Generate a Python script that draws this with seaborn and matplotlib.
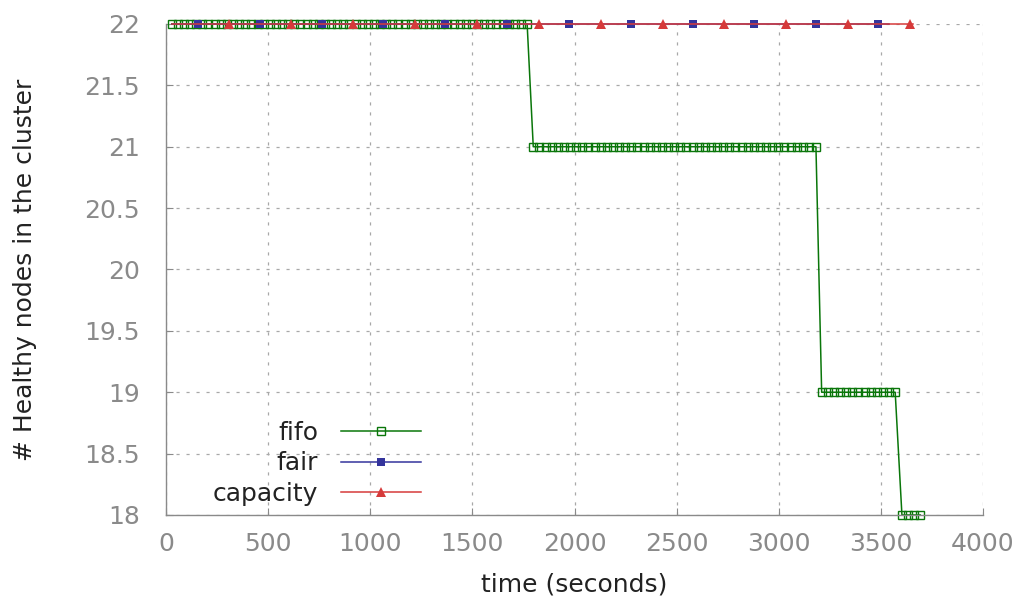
import matplotlib

matplotlib.use("Agg")
import matplotlib.pyplot as plt
import pandas as pd
import seaborn as sns

plt.rcParams.update(
    {
        "font.family": ["DejaVu Sans"],
        "font.size": 18,
        "axes.linewidth": 1.0,
    }
)

# fifo: one sample every ~30 s, grouped by the level it sits on
fifo_levels = [22, 21, 19, 18]
fifo_times = [
    [28, 58, 88, 118, 148, 178, 208, 238, 268, 298, 328, 358, 388, 418, 448,
     478, 508, 538, 568, 598, 628, 658, 688, 718, 748, 778, 808, 838, 868, 898,
     928, 958, 988, 1018, 1048, 1078, 1108, 1138, 1168, 1198, 1228, 1258, 1288,
     1318, 1348, 1378, 1408, 1438, 1468, 1498, 1528, 1558, 1588, 1618, 1648,
     1678, 1708, 1738, 1768],
    [1798, 1828, 1858, 1888, 1918, 1948, 1978, 2008, 2038, 2068, 2098, 2128,
     2158, 2188, 2218, 2248, 2278, 2308, 2338, 2368, 2398, 2428, 2458, 2488,
     2518, 2548, 2578, 2608, 2638, 2668, 2698, 2728, 2758, 2788, 2818, 2848,
     2878, 2908, 2938, 2968, 2998, 3028, 3058, 3088, 3118, 3148, 3182],
    [3210, 3240, 3270, 3300, 3330, 3360, 3390, 3420, 3450, 3480, 3510, 3540,
     3570],
    [3603, 3633, 3663, 3693],
]

# fair / capacity stay at 22; first and last entries are the line ends
fair_time = [28, 158, 460, 762, 1064, 1366, 1668, 1972, 2276, 2578, 2879,
             3182, 3486, 3540]
fair_nodes = [22] * len(fair_time)
capacity_time = [28, 310, 613, 916, 1219, 1522, 1825, 2128, 2431, 2734, 3034,
                 3337, 3641, 3657]
capacity_nodes = [22] * len(capacity_time)

fifo = pd.DataFrame(
    {
        "time": [t for ts in fifo_times for t in ts],
        "nodes": [lvl for lvl, ts in zip(fifo_levels, fifo_times) for _ in ts],
    }
)
fair = pd.DataFrame({"time": fair_time, "nodes": fair_nodes})
capacity = pd.DataFrame({"time": capacity_time, "nodes": capacity_nodes})

GREEN = "#0a760a"
BLUE = "#34349c"
RED = "#d63a3a"
GREY = "#8a8a8a"

fig = plt.figure(figsize=(10.21, 6.07), dpi=100)
ax = fig.add_axes([0.1626, 0.1516, 0.8002, 0.8089])

common = dict(x="time", y="nodes", estimator=None, sort=False, ax=ax,
              linewidth=1.1, clip_on=False)
sns.lineplot(data=fifo, color=GREEN, marker="s", markersize=5.8,
             markerfacecolor="none", markeredgecolor=GREEN,
             markeredgewidth=1.0, label="fifo", **common)
sns.lineplot(data=fair, color=BLUE, marker="s", markersize=5.8,
             markeredgewidth=0, markevery=slice(1, -1), label="fair", **common)
sns.lineplot(data=capacity, color=RED, marker="^", markersize=7,
             markeredgewidth=0, markevery=slice(1, -1), label="capacity",
             **common)

ax.set_xlim(0, 4000)
ax.set_ylim(18, 22)
ax.set_xticks(range(0, 4001, 500))
ax.set_yticks([18, 18.5, 19, 19.5, 20, 20.5, 21, 21.5, 22])
ax.set_yticklabels(["18", "18.5", "19", "19.5", "20", "20.5", "21", "21.5", "22"])

for side in ("top", "right"):
    ax.spines[side].set_visible(False)
for side in ("left", "bottom"):
    ax.spines[side].set_color(GREY)
ax.tick_params(direction="in", length=5, width=0.8, color=GREY,
               labelcolor=GREY, labelsize=18)
ax.tick_params(axis="x", pad=12)
ax.tick_params(axis="y", pad=19)

ax.set_axisbelow(True)
ax.grid(True, color="#a8a8a8", linestyle=(0, (2.5, 5.5)), linewidth=0.9)

ax.set_xlabel("time (seconds)", fontsize=18, color="#222222")
ax.set_ylabel("# Healthy nodes in the cluster", fontsize=18, color="#222222")
ax.xaxis.set_label_coords(0.5, -0.118)
ax.yaxis.set_label_coords(-0.158, 0.5)

leg = ax.legend(
    loc="lower left",
    bbox_to_anchor=(0.0575, 0.018),
    frameon=False,
    markerfirst=False,
    borderpad=0,
    borderaxespad=0,
    handlelength=3.2,
    handletextpad=0.9,
    labelspacing=0.27,
    fontsize=18,
)
for text in leg.get_texts():
    text.set_color("#222222")

fig.savefig("out.png", dpi=100)
